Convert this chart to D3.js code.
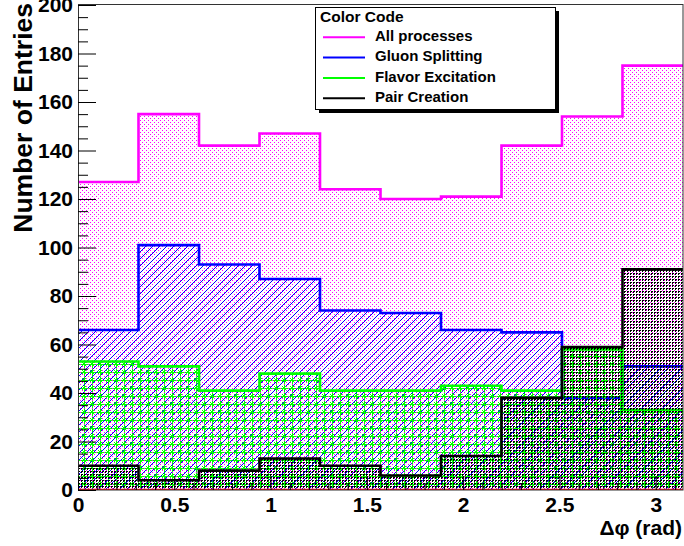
<!DOCTYPE html>
<html>
<head>
<meta charset="utf-8">
<script src="https://cdn.jsdelivr.net/npm/d3@7"></script>
<style>
  body { margin: 0; background: #fff; }
  text { font-family: "Liberation Sans", Arial, Helvetica, sans-serif; font-weight: bold; }
</style>
</head>
<body>
<svg id="chart" width="684" height="546"></svg>
<script>
// Δφ histograms, 10 bins over [0, π]
const nBins = 10;
const xMin = 0, xMax = Math.PI;

const allProcesses     = [127, 155, 142, 147, 124, 120, 121, 142, 154, 175];
const gluonSplitting   = [66, 101, 93, 87, 74, 73, 66, 65, 38, 51];
const flavorExcitation = [53, 51, 41, 48, 41, 41, 43, 41, 58, 33];
const pairCreation     = [10, 4, 8, 13, 10, 6, 14, 38, 59, 91];

const seriesNames  = ["All processes", "Gluon Splitting", "Flavor Excitation", "Pair Creation"];
const seriesColors = ["#ff00ff", "#0000ff", "#00ff00", "#000000"];
const seriesFills  = ["dots", "hatch", "stars", "grid"];

const xTickValues = [0, 0.5, 1, 1.5, 2, 2.5, 3];
const xTickLabels = ["0", "0.5", "1", "1.5", "2", "2.5", "3"];
const yTickValues = [0, 20, 40, 60, 80, 100, 120, 140, 160, 180, 200];
const yTickLabels = ["0", "20", "40", "60", "80", "100", "120", "140", "160", "180", "200"];

const svg = d3.select("#chart");
const frame = { left: 78, right: 683, top: 5, bottom: 490 };

const x = d3.scaleLinear().domain([xMin, xMax]).range([frame.left, frame.right]);
const y = d3.scaleLinear().domain([0, 200]).range([frame.bottom, frame.top]);

// ---- fill patterns (transparent backgrounds so layers show through)
const defs = svg.append("defs");

const pDots = defs.append("pattern").attr("id", "dots")
  .attr("patternUnits", "userSpaceOnUse").attr("width", 4).attr("height", 4);
pDots.append("rect").attr("x", 0).attr("y", 0).attr("width", 1).attr("height", 1).attr("fill", "#ff00ff");
pDots.append("rect").attr("x", 2).attr("y", 2).attr("width", 1).attr("height", 1).attr("fill", "#ff00ff");

const pHatch = defs.append("pattern").attr("id", "hatch")
  .attr("patternUnits", "userSpaceOnUse").attr("width", 7).attr("height", 7);
pHatch.append("path").attr("d", "M0,7 L7,0 M-2,2 L2,-2 M5,9 L9,5")
  .attr("stroke", "#0000ff").attr("stroke-width", 1).attr("fill", "none");

const pStars = defs.append("pattern").attr("id", "stars")
  .attr("patternUnits", "userSpaceOnUse").attr("width", 8).attr("height", 8);
pStars.append("path").attr("d", "M4,0.5 V7.5 M0.5,4 H7.5")
  .attr("stroke", "#00ff00").attr("stroke-width", 1).attr("fill", "none")
  .attr("shape-rendering", "crispEdges");
pStars.append("path").attr("d", "M2,2 L6,6 M6,2 L2,6")
  .attr("stroke", "#00ff00").attr("stroke-width", 1).attr("fill", "none");

const pGrid = defs.append("pattern").attr("id", "grid")
  .attr("patternUnits", "userSpaceOnUse").attr("width", 3).attr("height", 3);
pGrid.append("rect").attr("x", 0).attr("y", 0).attr("width", 2).attr("height", 1).attr("fill", "#000");
pGrid.append("rect").attr("x", 0).attr("y", 1).attr("width", 1).attr("height", 1).attr("fill", "#000");

defs.append("clipPath").attr("id", "plotClip").append("rect")
  .attr("x", frame.left).attr("y", frame.top)
  .attr("width", frame.right - frame.left).attr("height", frame.bottom - frame.top);

// ---- histograms
const edges = d3.range(nBins + 1).map(i => xMin + i * (xMax - xMin) / nBins);
const stepPoints = vals => edges.map((e, i) => [e, vals[Math.min(i, vals.length - 1)]]);

const area = d3.area().curve(d3.curveStepAfter)
  .x(d => x(d[0])).y0(y(0)).y1(d => y(d[1]));
const line = d3.line().curve(d3.curveStepAfter)
  .x(d => x(d[0])).y(d => y(d[1]));

const plot = svg.append("g").attr("clip-path", "url(#plotClip)");
const allSeries = [allProcesses, gluonSplitting, flavorExcitation, pairCreation];

allSeries.forEach((vals, i) => {
  const pts = stepPoints(vals);
  plot.append("path").attr("d", area(pts)).attr("fill", `url(#${seriesFills[i]})`);
  plot.append("path").attr("d", line(pts))
    .attr("fill", "none").attr("stroke", seriesColors[i]).attr("stroke-width", 2.6);
});

// zero line along the bottom
plot.append("line")
  .attr("x1", frame.left).attr("x2", frame.right)
  .attr("y1", y(0) - 0.5).attr("y2", y(0) - 0.5)
  .attr("stroke", "#ff0000").attr("stroke-width", 1.5);

// ---- frame
svg.append("rect")
  .attr("x", frame.left + 0.5).attr("y", frame.top - 0.5)
  .attr("width", frame.right - frame.left - 0.5).attr("height", frame.bottom - frame.top + 0.5)
  .attr("fill", "none").attr("stroke", "#333").attr("stroke-width", 1);

// ---- axes
const yMinor = d3.range(0, 201, 5).filter(v => v % 20 !== 0);
const xMinor = d3.range(0, 32).map(i => i / 10).filter(v => Math.abs(v * 2 - Math.round(v * 2)) > 1e-6);

const yAxis = svg.append("g").attr("transform", `translate(${frame.left},0)`)
  .call(d3.axisLeft(y).tickValues(yTickValues).tickSize(-18).tickPadding(5)
    .tickFormat((d, i) => yTickLabels[i]));
svg.append("g").attr("transform", `translate(${frame.left},0)`)
  .call(d3.axisLeft(y).tickValues(yMinor).tickSize(-10).tickFormat(""));

const xAxis = svg.append("g").attr("transform", `translate(0,${frame.bottom})`)
  .call(d3.axisBottom(x).tickValues(xTickValues).tickSize(-14).tickPadding(7)
    .tickFormat((d, i) => xTickLabels[i]));
svg.append("g").attr("transform", `translate(0,${frame.bottom})`)
  .call(d3.axisBottom(x).tickValues(xMinor).tickSize(-7).tickFormat(""));

svg.selectAll(".domain").remove();
svg.selectAll(".tick line").attr("stroke", "#000").attr("stroke-width", 1);
[yAxis, xAxis].forEach(g => g.selectAll("text").attr("font-size", 21).attr("fill", "#000")
  .style("font-family", "'Liberation Sans', Arial, sans-serif").style("font-weight", "bold"));

// axis titles
svg.append("text")
  .attr("transform", `translate(32,3) rotate(-90)`)
  .attr("text-anchor", "end").attr("font-size", 26.5).attr("fill", "#000")
  .text("Number of Entries");

svg.append("text")
  .attr("x", 682).attr("y", 535).attr("text-anchor", "end")
  .attr("font-size", 21).attr("fill", "#000")
  .text("Δφ (rad)");

// ---- legend
const leg = { x: 315, y: 7, w: 240, h: 102 };
svg.append("rect").attr("x", leg.x + 4).attr("y", leg.y + 4)
  .attr("width", leg.w).attr("height", leg.h).attr("fill", "#000");
svg.append("rect").attr("x", leg.x + 0.5).attr("y", leg.y + 0.5)
  .attr("width", leg.w).attr("height", leg.h)
  .attr("fill", "#fff").attr("stroke", "#000").attr("stroke-width", 1);

svg.append("text").attr("x", leg.x + 5).attr("y", 21.5)
  .attr("font-size", 15.5).attr("fill", "#000").text("Color Code");

seriesNames.forEach((name, i) => {
  const base = 41 + i * 20.3;
  svg.append("line")
    .attr("x1", 323).attr("x2", 365)
    .attr("y1", base - 3.7).attr("y2", base - 3.7)
    .attr("stroke", seriesColors[i]).attr("stroke-width", 2);
  svg.append("text").attr("x", 375).attr("y", base)
    .attr("font-size", 15).attr("fill", "#000").text(name);
});
</script>
</body>
</html>
